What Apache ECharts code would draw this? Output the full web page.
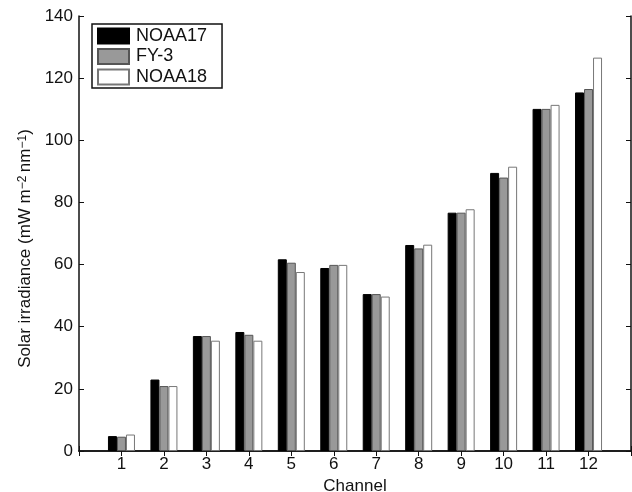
<!DOCTYPE html>
<html><head><meta charset="utf-8">
<script src="https://cdn.jsdelivr.net/npm/echarts@6/dist/echarts.min.js"></script>
<style>html,body{margin:0;padding:0;background:#fff}#c{width:632px;height:492px}</style>
</head><body><div id="c"></div>
<script>
const channels = ['1','2','3','4','5','6','7','8','9','10','11','12'];
const noaa17 = [4.8, 23.0, 37.0, 38.3, 61.7, 58.9, 50.5, 66.3, 76.7, 89.5, 110.1, 115.4];
const fy3    = [4.6, 20.9, 37.0, 37.4, 60.6, 59.9, 50.5, 65.2, 76.7, 88.0, 110.1, 116.5];
const noaa18 = [5.3, 20.9, 35.5, 35.5, 57.6, 59.9, 49.7, 66.4, 77.8, 91.5, 111.4, 126.6];
const yTicks = {min: 0, max: 140, interval: 20};

const cats = [''].concat(channels, ['']);
const pad = a => [null].concat(a, [null]);
const font = 'Liberation Sans, Arial, sans-serif';
const chart = echarts.init(document.getElementById('c'), null, {renderer: 'canvas'});
const barBase = {type: 'bar', barWidth: 9, barGap: '0%', animation: false, xAxisIndex: 0, yAxisIndex: 0};
chart.setOption({
  backgroundColor: '#fff',
  grid: {left: 79, right: 1, top: 16, bottom: 41, containLabel: false, outerBoundsMode: 'none'},
  legend: {
    left: 92, top: 24, orient: 'vertical',
    padding: [3, 15, 2, 5], itemGap: 2.5, itemWidth: 31, itemHeight: 15,
    borderColor: '#111', borderWidth: 1.5, backgroundColor: '#fff',
    textStyle: {fontFamily: font, fontSize: 18, color: '#111', padding: [0, 0, 0, 2]},
    icon: 'rect',
    data: ['NOAA17', 'FY-3', 'NOAA18']
  },
  xAxis: [{
    type: 'category', data: cats, boundaryGap: false, position: 'bottom',
    name: 'Channel', nameLocation: 'middle', nameGap: 26,
    nameTextStyle: {fontFamily: font, fontSize: 17, color: '#111'},
    axisLine: {lineStyle: {color: '#111', width: 1.5}},
    axisTick: {inside: true, length: 5, lineStyle: {color: '#111'}},
    axisLabel: {fontFamily: font, fontSize: 17, color: '#111', margin: 5, interval: 0},
    splitLine: {show: false}
  }, {
    type: 'category', data: cats, boundaryGap: false, position: 'top',
    axisLine: {lineStyle: {color: '#111', width: 1.5}},
    axisTick: {inside: true, length: 5, lineStyle: {color: '#111'}},
    axisLabel: {show: false}, splitLine: {show: false}
  }],
  yAxis: [{
    type: 'value', min: yTicks.min, max: yTicks.max, interval: yTicks.interval, position: 'left',
    name: 'Solar irradiance (mW m{sup|\u22122}\u2009nm{sup|\u22121})', nameLocation: 'middle', nameGap: 44,
    nameTextStyle: {fontFamily: font, fontSize: 17, color: '#111', padding: [0, 30, 0, 0],
      rich: {sup: {fontFamily: font, fontSize: 12, color: '#111', verticalAlign: 'top'}}},
    axisLine: {show: true, lineStyle: {color: '#111', width: 1.5}},
    axisTick: {show: true, inside: true, length: 5, lineStyle: {color: '#111'}},
    axisLabel: {fontFamily: font, fontSize: 17, color: '#111', margin: 6},
    splitLine: {show: false}
  }, {
    type: 'value', min: yTicks.min, max: yTicks.max, interval: yTicks.interval, position: 'right',
    axisLine: {show: true, lineStyle: {color: '#111', width: 1.5}},
    axisTick: {show: true, inside: true, length: 5, lineStyle: {color: '#111'}},
    axisLabel: {show: false}, splitLine: {show: false}
  }],
  series: [
    Object.assign({}, barBase, {name: 'NOAA17', data: pad(noaa17),
      itemStyle: {color: '#000', borderColor: '#000', borderWidth: 1}}),
    Object.assign({}, barBase, {name: 'FY-3', data: pad(fy3),
      itemStyle: {color: '#999', borderColor: '#555', borderWidth: 1}}),
    Object.assign({}, barBase, {name: 'NOAA18', data: pad(noaa18),
      itemStyle: {color: '#fff', borderColor: '#777', borderWidth: 1}})
  ]
});
</script></body></html>
